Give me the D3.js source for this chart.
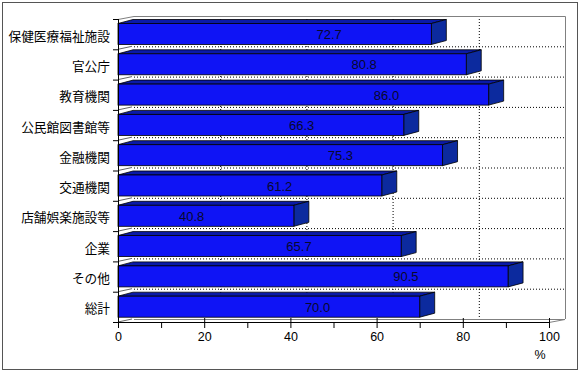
<!DOCTYPE html>
<html>
<head>
<meta charset="utf-8">
<script src="https://d3js.org/d3.v7.min.js"></script>
<style>
  body { margin: 0; background: #fff; }
  .cat { font: 12.7px "Noto Sans CJK JP", sans-serif; fill: #000; text-anchor: end; }
  .val { font: 13px "Liberation Sans", Arial, sans-serif; fill: #08082e; text-anchor: middle; }
  .tick-label { font: 12.5px "Liberation Sans", Arial, sans-serif; fill: #000; text-anchor: middle; }
</style>
</head>
<body>
<div id="chart"></div>
<script>
  // data
  const categories = ["保健医療福祉施設", "官公庁", "教育機関", "公民館図書館等", "金融機関",
                      "交通機関", "店舗娯楽施設等", "企業", "その他", "総計"];
  const values = [72.7, 80.8, 86.0, 66.3, 75.3, 61.2, 40.8, 65.7, 90.5, 70.0];
  const majorTicks = [0, 20, 40, 60, 80, 100];
  const minorTicks = [10, 30, 50, 70, 90];

  const W = 580, H = 373;
  const wallDx = 16, wallDy = -3;   // back wall offset
  const barDx = 15, barDy = -4;     // bar depth

  const svg = d3.select("#chart").append("svg")
      .attr("width", W).attr("height", H);

  const x = d3.scaleLinear().domain([0, 100]).range([118, 549]);
  const y = d3.scaleBand().domain(categories).range([19, 322]).padding(0);

  // outer frame
  svg.append("rect")
      .attr("x", 2.5).attr("y", 2.5).attr("width", 575).attr("height", 367)
      .attr("fill", "#fff").attr("stroke", "#555");

  const wall = svg.append("g");
  const x0 = x(0), x1 = x(100), yTop = y.range()[0], yBot = y.range()[1];

  // back wall horizontal gridlines at category boundaries
  const bounds = categories.slice(1).map(c => y(c));
  wall.selectAll(".hg").data(bounds).enter().append("line")
      .attr("x1", x0 + wallDx).attr("x2", x1 + wallDx)
      .attr("y1", d => d + wallDy + 0.5).attr("y2", d => d + wallDy + 0.5)
      .attr("stroke", "#000").attr("stroke-dasharray", "1,2");

  // back wall vertical gridlines
  wall.selectAll(".vg").data([20, 40, 60, 80]).enter().append("line")
      .attr("x1", d => x(d) + wallDx + 0.5).attr("x2", d => x(d) + wallDx + 0.5)
      .attr("y1", yTop + wallDy).attr("y2", yBot + wallDy)
      .attr("stroke", "#000").attr("stroke-dasharray", "1,2");

  // back wall border
  wall.append("path")
      .attr("d", `M${x0 + wallDx},${yTop + wallDy + 0.5}H${x1 + wallDx + 0.5}V${yBot + wallDy}`)
      .attr("fill", "none").attr("stroke", "#808080");
  wall.append("line")
      .attr("x1", x0).attr("y1", yTop + 0.5).attr("x2", x0 + wallDx).attr("y2", yTop + wallDy + 0.5)
      .attr("stroke", "#808080");

  // side wall slants at boundaries
  wall.selectAll(".sl").data(bounds.concat([yBot])).enter().append("line")
      .attr("x1", x0).attr("y1", d => d).attr("x2", x0 + wallDx - 2).attr("y2", d => d + wallDy)
      .attr("stroke", "#666");

  // floor edges
  wall.append("path")
      .attr("d", `M${x1},${yBot + 0.5}L${x1 + wallDx},${yBot + wallDy + 0.5}H${x0 + wallDx}`)
      .attr("fill", "none").attr("stroke", "#808080");

  // bars
  const bars = svg.append("g").selectAll("g").data(values).enter().append("g");
  const barTop = (d, i) => y(categories[i]) + 4.5;
  const barBot = (d, i) => y(categories[i]) + 25.5;

  bars.append("path")   // top face
      .attr("d", (d, i) => {
        const t = barTop(d, i);
        return `M${x0},${t}L${x(d)},${t}L${x(d) + barDx},${t + barDy}L${x0 + barDx},${t + barDy}Z`;
      })
      .attr("fill", "#0a1aa8").attr("stroke", "#000").attr("stroke-width", 0.8);

  bars.append("path")   // end face
      .attr("d", (d, i) => {
        const t = barTop(d, i), b = barBot(d, i);
        return `M${x(d)},${t}L${x(d) + barDx},${t + barDy}L${x(d) + barDx},${b + barDy}L${x(d)},${b}Z`;
      })
      .attr("fill", "#0c2a9e").attr("stroke", "#000").attr("stroke-width", 0.8);

  bars.append("rect")   // front face
      .attr("x", x0).attr("y", (d, i) => barTop(d, i))
      .attr("width", d => x(d) - x0).attr("height", (d, i) => barBot(d, i) - barTop(d, i))
      .attr("fill", "#0f14f5").attr("stroke", "#000").attr("stroke-width", 0.8);

  // value labels
  const labelShift = x(23.7) - x(0);
  bars.append("text")
      .attr("class", "val")
      .attr("x", d => x(d) - labelShift)
      .attr("y", (d, i) => (barTop(d, i) + barBot(d, i)) / 2 + 5)
      .text(d => d3.format(".1f")(d));

  // axes
  const ax = svg.append("g");
  ax.append("line").attr("x1", x0).attr("x2", x1).attr("y1", yBot + 0.5).attr("y2", yBot + 0.5)
      .attr("stroke", "#000");
  ax.append("line").attr("x1", x0 + 0.5).attr("x2", x0 + 0.5).attr("y1", yTop).attr("y2", yBot)
      .attr("stroke", "#000");

  ax.selectAll(".mj").data(majorTicks).enter().append("line")
      .attr("x1", d => x(d) + 0.5).attr("x2", d => x(d) + 0.5)
      .attr("y1", yBot - 4).attr("y2", yBot + 6).attr("stroke", "#000");
  ax.selectAll(".mn").data(minorTicks).enter().append("line")
      .attr("x1", d => x(d) + 0.5).attr("x2", d => x(d) + 0.5)
      .attr("y1", yBot).attr("y2", yBot + 6).attr("stroke", "#000");
  ax.selectAll(".tl").data(majorTicks).enter().append("text")
      .attr("class", "tick-label")
      .attr("x", d => x(d) + 0.5).attr("y", 341)
      .text(d => d);
  ax.append("text").attr("class", "tick-label").attr("x", 540).attr("y", 359).text("%");

  ax.selectAll(".yt").data(categories.map(c => y(c)).concat([yBot])).enter().append("line")
      .attr("x1", x0 - 5).attr("x2", x0).attr("y1", d => d + 0.5).attr("y2", d => d + 0.5)
      .attr("stroke", "#000");

  ax.selectAll(".cat").data(categories).enter().append("text")
      .attr("class", "cat")
      .attr("x", 110)
      .attr("y", c => y(c) + y.bandwidth() / 2 + 6.5)
      .text(c => c);
</script>
</body>
</html>
